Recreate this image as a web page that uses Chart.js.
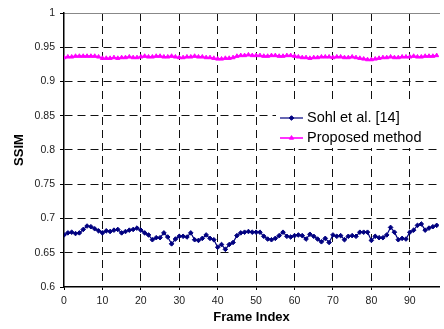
<!DOCTYPE html>
<html>
<head>
<meta charset="utf-8">
<script src="https://cdn.jsdelivr.net/npm/chart.js@4/dist/chart.umd.min.js"></script>
<style>
html,body{margin:0;padding:0;background:#fff;}
canvas{display:block;}
</style>
</head>
<body>
<canvas id="c" width="444" height="329"></canvas>
<script>
const frames = [0,1,2,3,4,5,6,7,8,9,10,11,12,13,14,15,16,17,18,19,20,21,22,23,24,25,26,27,28,29,30,31,32,33,34,35,36,37,38,39,40,41,42,43,44,45,46,47,48,49,50,51,52,53,54,55,56,57,58,59,60,61,62,63,64,65,66,67,68,69,70,71,72,73,74,75,76,77,78,79,80,81,82,83,84,85,86,87,88,89,90,91,92,93,94,95,96,97];
const sohl = [0.676,0.679,0.680,0.678,0.679,0.684,0.689,0.688,0.685,0.682,
0.679,0.682,0.681,0.683,0.684,0.679,0.681,0.683,0.684,0.686,
0.683,0.679,0.676,0.669,0.672,0.672,0.679,0.673,0.663,0.670,
0.674,0.674,0.673,0.679,0.669,0.668,0.671,0.676,0.671,0.669,
0.658,0.662,0.655,0.662,0.665,0.675,0.679,0.680,0.681,0.680,
0.680,0.680,0.674,0.670,0.669,0.671,0.675,0.680,0.674,0.673,
0.675,0.676,0.675,0.670,0.677,0.674,0.670,0.666,0.671,0.665,
0.676,0.674,0.675,0.669,0.674,0.675,0.674,0.680,0.680,0.680,
0.668,0.674,0.672,0.672,0.676,0.687,0.680,0.669,0.671,0.670,
0.680,0.683,0.690,0.692,0.683,0.686,0.688,0.690];
const proposed = [0.935,0.936,0.936,0.937,0.937,0.937,0.937,0.937,0.937,0.936,
0.934,0.934,0.934,0.935,0.934,0.935,0.935,0.936,0.935,0.935,
0.936,0.937,0.936,0.936,0.937,0.937,0.936,0.936,0.937,0.936,
0.935,0.935,0.936,0.936,0.937,0.936,0.936,0.935,0.935,0.934,
0.933,0.933,0.934,0.934,0.935,0.937,0.938,0.938,0.939,0.938,
0.938,0.938,0.937,0.937,0.938,0.938,0.937,0.937,0.938,0.938,
0.937,0.936,0.935,0.935,0.934,0.935,0.935,0.936,0.936,0.936,
0.935,0.936,0.936,0.935,0.935,0.936,0.935,0.934,0.933,0.932,
0.932,0.933,0.934,0.935,0.935,0.936,0.935,0.935,0.936,0.936,
0.936,0.937,0.936,0.936,0.937,0.937,0.937,0.938];
const seriesNames = ['Sohl et al. [14]', 'Proposed method'];
const yTicks = [0.6,0.65,0.7,0.75,0.8,0.85,0.9,0.95,1];
const xTitle = 'Frame Index';
const yTitle = 'SSIM';

const FONT = "'Liberation Sans', Arial, sans-serif";
const NAVY = '#000080';
const MAG = '#ff00ff';

function pts(arr){ return frames.map((f,i)=>({x:f,y:arr[i]})); }

const legendPlugin = {
  id:'boxLegend',
  afterDatasetsDraw(chart){
    const ctx = chart.ctx;
    ctx.save();
    ctx.fillStyle = '#fff';
    ctx.fillRect(276, 102, 168, 46);
    const items = chart.data.datasets;
    const ys = [118, 138];
    items.forEach((ds,i)=>{
      const y = ys[i];
      ctx.strokeStyle = ds.borderColor;
      ctx.lineWidth = ds.borderWidth;
      ctx.setLineDash([]);
      ctx.beginPath(); ctx.moveTo(280,y); ctx.lineTo(303,y); ctx.stroke();
      ctx.fillStyle = ds.pointBackgroundColor;
      ctx.strokeStyle = ds.pointBorderColor;
      ctx.lineWidth = 1;
      Chart.helpers.drawPoint(ctx, {pointStyle: ds.pointStyle, radius: ds.pointRadius, rotation:0, borderWidth:1}, 291.5, y);
      ctx.fillStyle = '#000';
      ctx.font = "14.5px " + FONT;
      ctx.textBaseline = 'middle';
      ctx.textAlign = 'left';
      ctx.fillText(ds.label, 307, y);
    });
    ctx.restore();
  }
};

new Chart(document.getElementById('c'), {
  type:'line',
  data:{
    datasets:[
      {label:seriesNames[0], data:pts(sohl), borderColor:NAVY, backgroundColor:NAVY,
       pointBackgroundColor:NAVY, pointBorderColor:NAVY, borderWidth:1.2,
       pointStyle:'rectRot', pointRadius:2.3, pointBorderWidth:1, tension:0, fill:false},
      {label:seriesNames[1], data:pts(proposed), borderColor:MAG, backgroundColor:MAG,
       pointBackgroundColor:MAG, pointBorderColor:MAG, borderWidth:1.6,
       pointStyle:'triangle', pointRadius:2.4, pointBorderWidth:1, tension:0, fill:false}
    ]
  },
  options:{
    responsive:false,
    animation:false,
    devicePixelRatio:1,
    layout:{padding:{top:13,right:0,left:0,bottom:0}},
    plugins:{legend:{display:false}, tooltip:{enabled:false}},
    scales:{
      x:{
        type:'linear', position:'bottom', min:0, max:97.6,
        afterFit(s){ s.height = 42; },
        ticks:{stepSize:10, includeBounds:false, autoSkip:false, maxRotation:0,
               color:'#222', font:{family:FONT, size:10.5}, padding:5},
        grid:{color:(c)=> c.tick && c.tick.value===0 ? 'rgba(0,0,0,0)' : '#111', lineWidth:1,
              drawTicks:true, tickLength:3, tickColor:'#000'},
        border:{display:true, color:'#000', width:1.5, dash:[8,5]},
        title:{display:true, text:xTitle, color:'#000', font:{family:FONT, size:13, weight:'bold'},
               padding:{top:0,bottom:4}}
      },
      x2:{
        type:'linear', position:'top', min:0, max:1, display:true,
        afterFit(s){ s.height = 0; },
        ticks:{display:false}, grid:{display:false, drawTicks:false},
        border:{display:true, color:'#888', width:1}
      },
      y:{
        type:'linear', min:0.6, max:1,
        afterFit(s){ s.width = 64; },
        afterBuildTicks(s){ s.ticks = yTicks.map(v=>({value:v})); },
        ticks:{color:'#222', font:{family:FONT, size:10.5}, padding:5,
               callback:(v)=> String(+v.toFixed(2))},
        grid:{color:(c)=> c.tick && (Math.abs(c.tick.value-0.6)<1e-6 || Math.abs(c.tick.value-1)<1e-6) ? 'rgba(0,0,0,0)' : '#111',
              lineWidth:1, drawTicks:true, tickLength:4, tickColor:'#000'},
        border:{display:true, color:'#000', width:1.5, dash:[8,5]},
        title:{display:true, text:yTitle, color:'#000', font:{family:FONT, size:13, weight:'bold'},
               padding:{top:12,bottom:0}}
      }
    }
  },
  plugins:[legendPlugin]
});
</script>
</body>
</html>
